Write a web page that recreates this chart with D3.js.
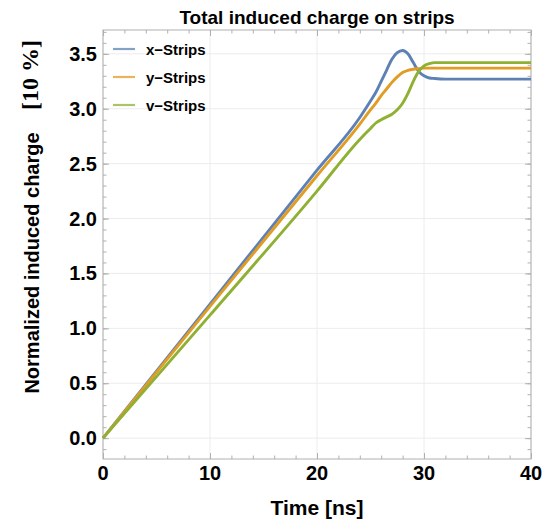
<!DOCTYPE html>
<html>
<head>
<meta charset="utf-8">
<script src="https://cdn.jsdelivr.net/npm/d3@7"></script>
<style>
  body { margin: 0; background: #fff; }
  text { font-family: 'Liberation Sans', Arial, sans-serif; font-weight: bold; }
</style>
</head>
<body>
<svg width="552" height="519"></svg>
<script>
// time [ns] and values
const time   = [0, 10, 20, 24, 25, 25.5, 26, 26.5, 27, 27.5, 28, 28.5, 29, 29.5, 30, 30.5, 31, 32, 40];
const xStrip = [0, 1.22, 2.44, 2.92, 3.07, 3.15, 3.25, 3.35, 3.45, 3.51, 3.53, 3.50, 3.42, 3.34, 3.30, 3.28, 3.275, 3.27, 3.27];
const yStrip = [0, 1.2, 2.39, 2.86, 2.99, 3.05, 3.12, 3.18, 3.24, 3.29, 3.33, 3.35, 3.36, 3.365, 3.37, 3.37, 3.37, 3.37, 3.37];
const vStrip = [0, 1.12, 2.25, 2.72, 2.82, 2.87, 2.9, 2.925, 2.95, 2.99, 3.05, 3.14, 3.25, 3.34, 3.39, 3.41, 3.42, 3.42, 3.42];

const seriesNames = ['x\u2212Strips', 'y\u2212Strips', 'v\u2212Strips'];
const seriesColors = ['#5e81b5', '#e19c24', '#8fb032'];
const xTicks = [0, 10, 20, 30, 40];
const yTicks = [0, 0.5, 1, 1.5, 2, 2.5, 3, 3.5];

const svg = d3.select('svg');
const plotLeft = 103, plotRight = 531, plotTop = 30, plotBottom = 459;

const x = d3.scaleLinear().domain([0, 40]).range([plotLeft, plotRight]);
const y = d3.scaleLinear().domain([-0.19, 3.717]).range([plotBottom, plotTop]);

const frameColor = '#b0b0b0';
const gridColor = '#ececec';

// grid
svg.append('g').selectAll('line').data(xTicks).join('line')
    .attr('x1', d => x(d)).attr('x2', d => x(d))
    .attr('y1', plotTop).attr('y2', plotBottom)
    .attr('stroke', gridColor);
svg.append('g').selectAll('line').data(yTicks).join('line')
    .attr('x1', plotLeft).attr('x2', plotRight)
    .attr('y1', d => y(d)).attr('y2', d => y(d))
    .attr('stroke', gridColor);

// frame ticks, inside, on all four sides
const xMinor = d3.range(0, 40.01, 2);
const yMinor = d3.range(-0.1, 3.71, 0.1);
const drawTicks = (gen, tr) => {
  const g = svg.append('g').attr('transform', tr).call(gen);
  g.select('.domain').remove();
  g.selectAll('line').attr('stroke', frameColor);
};
drawTicks(d3.axisBottom(x).tickValues(xMinor).tickSize(-3.5).tickFormat(''), `translate(0,${plotBottom})`);
drawTicks(d3.axisBottom(x).tickValues(xTicks).tickSize(-6).tickFormat(''), `translate(0,${plotBottom})`);
drawTicks(d3.axisTop(x).tickValues(xMinor).tickSize(-3.5).tickFormat(''), `translate(0,${plotTop})`);
drawTicks(d3.axisTop(x).tickValues(xTicks).tickSize(-6).tickFormat(''), `translate(0,${plotTop})`);
drawTicks(d3.axisLeft(y).tickValues(yMinor).tickSize(-3.5).tickFormat(''), `translate(${plotLeft},0)`);
drawTicks(d3.axisLeft(y).tickValues(yTicks).tickSize(-6).tickFormat(''), `translate(${plotLeft},0)`);
drawTicks(d3.axisRight(y).tickValues(yMinor).tickSize(-3.5).tickFormat(''), `translate(${plotRight},0)`);
drawTicks(d3.axisRight(y).tickValues(yTicks).tickSize(-6).tickFormat(''), `translate(${plotRight},0)`);

svg.append('rect')
    .attr('x', plotLeft).attr('y', plotTop)
    .attr('width', plotRight - plotLeft).attr('height', plotBottom - plotTop)
    .attr('fill', 'none').attr('stroke', frameColor);

// tick labels
svg.append('g').selectAll('text').data(xTicks).join('text')
    .attr('x', d => x(d)).attr('y', 480)
    .attr('text-anchor', 'middle')
    .attr('font-size', 20)
    .text(d => d);
svg.append('g').selectAll('text').data(yTicks).join('text')
    .attr('x', 97).attr('y', d => y(d) + 7)
    .attr('text-anchor', 'end')
    .attr('font-size', 20)
    .text(d => d3.format('.1f')(d));

// curves
const series = [xStrip, yStrip, vStrip];
const line = d3.line()
    .x((d, i) => x(time[i]))
    .y(d => y(d))
    .curve(d3.curveMonotoneX);

svg.append('g').selectAll('path').data(series).join('path')
    .attr('d', line)
    .attr('fill', 'none')
    .attr('stroke', (d, i) => seriesColors[i])
    .attr('stroke-width', 2.9);

// legend
const legend = svg.append('g').selectAll('g').data(seriesNames).join('g')
    .attr('transform', (d, i) => `translate(113, ${49 + i * 28})`);
legend.append('line')
    .attr('x1', 0).attr('x2', 22)
    .attr('stroke', (d, i) => seriesColors[i])
    .attr('stroke-width', 2.2)
    .attr('stroke-opacity', 0.75);
legend.append('text')
    .attr('x', 33).attr('y', 5.5)
    .attr('font-size', 15)
    .text(d => d);

// titles
svg.append('text')
    .attr('x', (plotLeft + plotRight) / 2).attr('y', 24)
    .attr('text-anchor', 'middle')
    .attr('font-size', 19)
    .text('Total induced charge on strips');

svg.append('text')
    .attr('x', (plotLeft + plotRight) / 2).attr('y', 515)
    .attr('text-anchor', 'middle')
    .attr('font-size', 21)
    .text('Time [ns]');

svg.append('text')
    .attr('transform', 'translate(39, 263) rotate(-90)')
    .attr('text-anchor', 'middle')
    .attr('font-size', 20)
    .text('Normalized induced charge');

svg.append('text')
    .attr('transform', 'translate(38, 75) rotate(-90)')
    .attr('text-anchor', 'middle')
    .attr('font-size', 24)
    .style('font-family', "'Liberation Serif', 'Times New Roman', serif")
    .text('[10 %]');
</script>
</body>
</html>
